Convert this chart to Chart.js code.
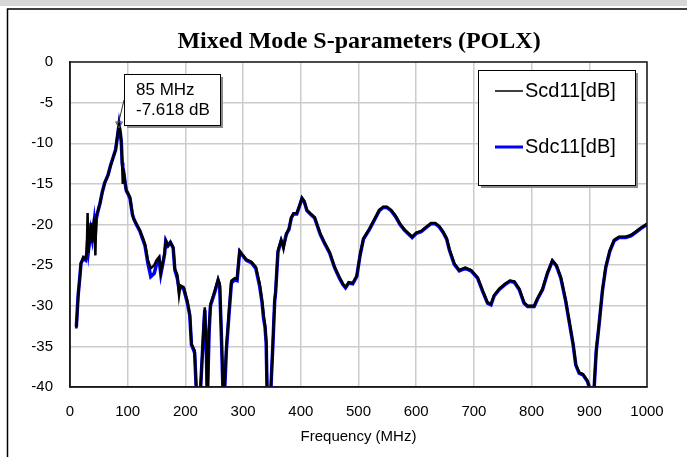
<!DOCTYPE html>
<html>
<head>
<meta charset="utf-8">
<title>Mixed Mode S-parameters (POLX)</title>
<script src="https://cdn.jsdelivr.net/npm/chart.js@4.4.1/dist/chart.umd.min.js"></script>
<style>
    body { margin: 0; background: #fff; }
    #sparam_chart { display: block; }
</style>
</head>
<body>
<canvas id="sparam_chart" width="687" height="457"></canvas>
<script>
// frequency points (MHz) shared by both traces
const freq_mhz = [
    11, 14, 17, 19, 23, 27, 29, 30.5, 32, 34, 36, 38.5, 40, 42, 44, 45.5, 48, 52, 56, 60,
    66, 70, 75, 79, 82, 85, 87.5, 89, 90.5, 91.5, 92.5, 95, 97.5, 101, 104, 108, 110, 115, 121, 126,
    130, 135, 140, 146, 150, 154.5, 157.4, 161.5, 164, 166, 170, 174, 178.8, 181.7, 186, 189, 191.4, 197, 203, 207.6,
    210.5, 214, 216, 219, 225, 229, 232, 233.6, 236.5, 238, 241, 243.4, 251, 256.6, 259.5, 262.4, 265.3, 268, 271, 275.7,
    279.7, 285.5, 289.5, 294, 300, 305.7, 314.3, 322, 328.7, 332.7, 335.6, 338, 340, 342, 347, 351.8, 354.7, 356.4, 360.4, 366,
    370, 375, 379.5, 383.5, 387.5, 393, 398, 402, 406, 410.6, 416.4, 424, 433.7, 441, 450, 458.5, 467, 473, 477.5, 483,
    490, 497, 503, 508.6, 519, 529.4, 536, 543, 549, 556.5, 564, 572, 579.6, 587, 593, 600, 608.5, 617, 625.8, 633,
    640, 647, 652.8, 657.4, 666, 674.7, 685, 695, 706.4, 715, 723.7, 729.6, 735, 744, 753.8, 762.5, 770, 778.5, 787, 793,
    804.5, 810, 819, 827.5, 836, 843, 850.7, 859, 866, 872, 876.6, 882.4, 889, 896.7, 902.6, 908, 912, 917, 922.7, 928.5,
    935.5, 943, 951.5, 963, 972, 980, 989, 1000
];

// Scd11 [dB] (black trace)
const scd11_db = [
    -32.8, -29.0, -26.5, -24.8, -24.0, -24.2, -23.5, -18.6, -23.5, -21.5, -19.8, -22.2, -20.5, -19.2, -23.8, -19.0, -18.4, -17.4, -16.0, -14.9,
    -13.9, -12.8, -11.7, -10.8, -9.2, -7.618, -8.8, -9.8, -13.0, -15.0, -13.2, -14.5, -15.8, -16.2, -16.6, -18.6, -19.3, -19.9, -20.7, -21.6,
    -22.4, -24.4, -25.4, -25.0, -24.4, -24.0, -25.9, -24.4, -23.5, -22.0, -22.6, -22.2, -22.8, -25.4, -26.2, -28.7, -27.5, -27.7, -29.3, -31.0,
    -34.7, -35.2, -35.5, -40.5, -42, -36.3, -32.2, -30.2, -35.9, -42, -33.0, -29.8, -28.1, -26.7, -27.3, -33.5, -40.5, -39.8, -35.1, -30.6,
    -26.9, -26.6, -26.7, -23.2, -23.8, -24.3, -24.6, -25.2, -27.3, -29.3, -31.2, -32.4, -34.3, -42, -42, -34.3, -29.3, -28.1, -23.2, -21.9,
    -23.0, -21.1, -20.5, -19.1, -18.6, -18.6, -17.6, -16.7, -17.1, -18.2, -18.6, -19.1, -21.1, -22.2, -23.4, -25.2, -26.5, -27.3, -27.7, -27.1,
    -27.2, -26.3, -23.6, -21.7, -20.5, -19.1, -18.2, -17.8, -17.8, -18.2, -18.9, -19.9, -20.6, -21.1, -21.5, -21.0, -20.8, -20.3, -19.8, -19.8,
    -20.2, -20.9, -21.7, -23.0, -24.8, -25.6, -25.3, -25.6, -26.5, -28.1, -29.6, -29.8, -28.7, -27.9, -27.3, -26.9, -27.0, -27.9, -29.6, -30.0,
    -30.0, -29.1, -27.9, -25.9, -24.4, -25.0, -26.5, -29.3, -32.2, -34.7, -37.2, -38.2, -38.4, -39.2, -40.5, -40.5, -35.5, -32.2, -28.1, -25.2,
    -23.2, -21.9, -21.5, -21.5, -21.3, -20.9, -20.4, -19.9
];

// Sdc11 [dB] (blue trace, sits just under the black one)
const sdc11_db = [
    -32.6, -28.8, -26.5, -24.8, -24.2, -24.4, -23.6, -22.0, -23.2, -22.0, -20.8, -21.8, -20.8, -19.6, -21.2, -19.3, -18.5, -17.4, -16.0, -14.9,
    -13.9, -12.8, -11.7, -10.8, -9.3, -7.7, -8.9, -10.0, -12.4, -13.0, -13.3, -14.6, -15.8, -16.3, -16.8, -18.7, -19.2, -20.0, -20.8, -21.8,
    -22.6, -24.8, -26.4, -26.0, -24.9, -24.3, -26.1, -24.6, -23.6, -22.0, -22.6, -22.2, -22.9, -25.6, -26.6, -28.0, -27.7, -27.9, -29.5, -31.2,
    -34.8, -35.4, -35.8, -40.5, -42, -36.5, -32.4, -30.5, -36.2, -42, -33.3, -30.0, -28.3, -26.9, -27.6, -33.8, -40.8, -40.5, -35.5, -30.9,
    -27.2, -26.8, -26.9, -23.4, -23.9, -24.4, -24.7, -25.4, -27.6, -29.5, -31.6, -32.6, -34.6, -42, -42, -34.5, -29.5, -28.3, -23.4, -22.0,
    -22.6, -21.2, -20.6, -19.2, -18.7, -18.7, -17.7, -16.8, -17.2, -18.3, -18.7, -19.2, -21.2, -22.3, -23.5, -25.3, -26.6, -27.4, -27.8, -27.2,
    -27.3, -26.4, -23.7, -21.8, -20.6, -19.2, -18.3, -17.9, -17.9, -18.3, -19.0, -20.0, -20.7, -21.2, -21.6, -21.1, -20.9, -20.4, -19.9, -19.9,
    -20.3, -21.0, -21.8, -23.1, -24.9, -25.7, -25.4, -25.7, -26.6, -28.2, -29.7, -29.9, -28.8, -28.0, -27.4, -27.0, -27.1, -28.0, -29.7, -30.1,
    -30.1, -29.2, -28.0, -26.0, -24.5, -25.1, -26.6, -29.4, -32.3, -34.8, -37.3, -38.3, -38.5, -39.3, -40.6, -40.6, -35.6, -32.3, -28.2, -25.3,
    -23.3, -22.0, -21.6, -21.6, -21.4, -21.0, -20.5, -20.0
];

// tick labels for both axes
const x_ticks = [0, 100, 200, 300, 400, 500, 600, 700, 800, 900, 1000],
    y_ticks = [0, -5, -10, -15, -20, -25, -30, -35, -40];

// marker readout
const marker_freq = 85,
    marker_db = -7.618;

const series_names = ['Scd11[dB]', 'Sdc11[dB]'],
    series_colors = ['#000000', '#0000ff'];

const ctx = document.getElementById('sparam_chart').getContext('2d');

// turn the arrays into {x, y} points for the linear x scale
toPoints = (values) => freq_mhz.map((f, i) => ({ x: f, y: values[i] }));

// box with a grey drop shadow, used by legend and marker readout
function shadowBox(c, x, y, w, h) {
    c.fillStyle = '#8a8a8a';
    c.fillRect(x + 3, y + 3, w, h);
    c.fillStyle = '#ffffff';
    c.fillRect(x, y, w, h);
    c.strokeStyle = '#000000';
    c.lineWidth = 1;
    c.strokeRect(x + 0.5, y + 0.5, w, h);
}

// outer frame, title, plot border, legend and marker label
const decorations = {
    id: 'decorations',
    beforeDraw(chart) {
        const c = chart.ctx;
        c.save();
        c.fillStyle = '#ffffff';
        c.fillRect(0, 0, chart.width, chart.height);
        c.fillStyle = '#d6d6d6';
        c.fillRect(0, 0, chart.width, 6);
        c.strokeStyle = '#000000';
        c.lineWidth = 1.5;
        c.beginPath();
        c.moveTo(7.5, chart.height);
        c.lineTo(7.5, 9);
        c.lineTo(chart.width, 9);
        c.stroke();

        c.fillStyle = '#000000';
        c.font = 'bold 24px "Liberation Serif", "Times New Roman", serif';
        c.textAlign = 'center';
        c.textBaseline = 'middle';
        c.fillText('Mixed Mode S-parameters (POLX)', 359, 42);
        c.restore();
    },
    afterDraw(chart) {
        const c = chart.ctx,
            area = chart.chartArea,
            xs = chart.scales.x,
            ys = chart.scales.y;
        c.save();

        // plot border
        c.strokeStyle = '#1a1a1a';
        c.lineWidth = 1.5;
        c.strokeRect(area.left, area.top, area.right - area.left, area.bottom - area.top);

        // legend
        shadowBox(c, 478, 70, 157, 115);
        c.font = '20px "Liberation Sans", Arial, sans-serif';
        c.textAlign = 'left';
        c.textBaseline = 'middle';
        const rows = [91, 147];
        series_names.forEach((name, i) => {
            c.strokeStyle = series_colors[i];
            c.lineWidth = i == 0 ? 1.5 : 3;
            c.beginPath();
            c.moveTo(495, rows[i]);
            c.lineTo(523, rows[i]);
            c.stroke();
            c.fillStyle = '#000000';
            c.fillText(name, 525, rows[i]);
        });

        // marker readout with leader line
        const mx = xs.getPixelForValue(marker_freq),
            my = ys.getPixelForValue(marker_db);
        c.strokeStyle = '#333333';
        c.lineWidth = 1;
        c.beginPath();
        c.moveTo(mx, my - 3);
        c.lineTo(124, 100);
        c.stroke();
        shadowBox(c, 124, 74, 96, 51);
        c.fillStyle = '#000000';
        c.font = '17px "Liberation Sans", Arial, sans-serif';
        c.fillText(`${marker_freq} MHz`, 136, 90);
        c.fillText(`${marker_db} dB`, 136, 110);
        c.restore();
    }
};

// set the tick values from the arrays above
setTicks = (values) => (scale) => {
    scale.ticks = values.map((v) => ({ value: v }));
};

const tick_font = { family: '"Liberation Sans", Arial, sans-serif', size: 15 };

new Chart(ctx, {
    type: 'line',
    data: {
        datasets: [{
                label: series_names[0],
                data: toPoints(scd11_db),
                borderColor: series_colors[0],
                borderWidth: 2.5,
                pointRadius: 0,
                tension: 0
            },
            {
                label: series_names[1],
                data: toPoints(sdc11_db),
                borderColor: series_colors[1],
                borderWidth: 3.5,
                pointRadius: 0,
                tension: 0
            },
            {
                label: 'marker',
                data: [{ x: marker_freq, y: marker_db }],
                showLine: false,
                pointStyle: 'triangle',
                rotation: 180,
                pointRadius: 4,
                pointBorderColor: '#555555',
                pointBackgroundColor: 'rgba(255,255,255,0)',
                pointBorderWidth: 1,
                order: -1
            }
        ]
    },
    options: {
        responsive: false,
        animation: false,
        events: [],
        layout: {
            padding: { top: 62, right: 40, left: 0, bottom: 0 }
        },
        plugins: {
            legend: { display: false },
            title: { display: false },
            tooltip: { enabled: false }
        },
        scales: {
            x: {
                type: 'linear',
                min: 0,
                max: 1000,
                afterBuildTicks: setTicks(x_ticks),
                afterFit: (scale) => { scale.height = 70; },
                grid: { color: '#cccccc', lineWidth: 1.5, drawTicks: false },
                border: { color: '#1a1a1a', width: 1.5 },
                ticks: {
                    color: '#000000',
                    font: tick_font,
                    padding: 16,
                    maxRotation: 0,
                    callback: (v) => String(v)
                },
                title: {
                    display: true,
                    text: 'Frequency (MHz)',
                    color: '#000000',
                    font: tick_font,
                    padding: { top: 0, bottom: 11 }
                }
            },
            y: {
                min: -40,
                max: 0,
                afterBuildTicks: setTicks(y_ticks),
                afterFit: (scale) => { scale.width = 70; },
                grid: { color: '#cccccc', lineWidth: 1.5, drawTicks: false },
                border: { color: '#1a1a1a', width: 1.5 },
                ticks: { color: '#000000', font: tick_font, padding: 17, callback: (v) => String(v) }
            }
        }
    },
    plugins: [decorations]
});
</script>
</body>
</html>
